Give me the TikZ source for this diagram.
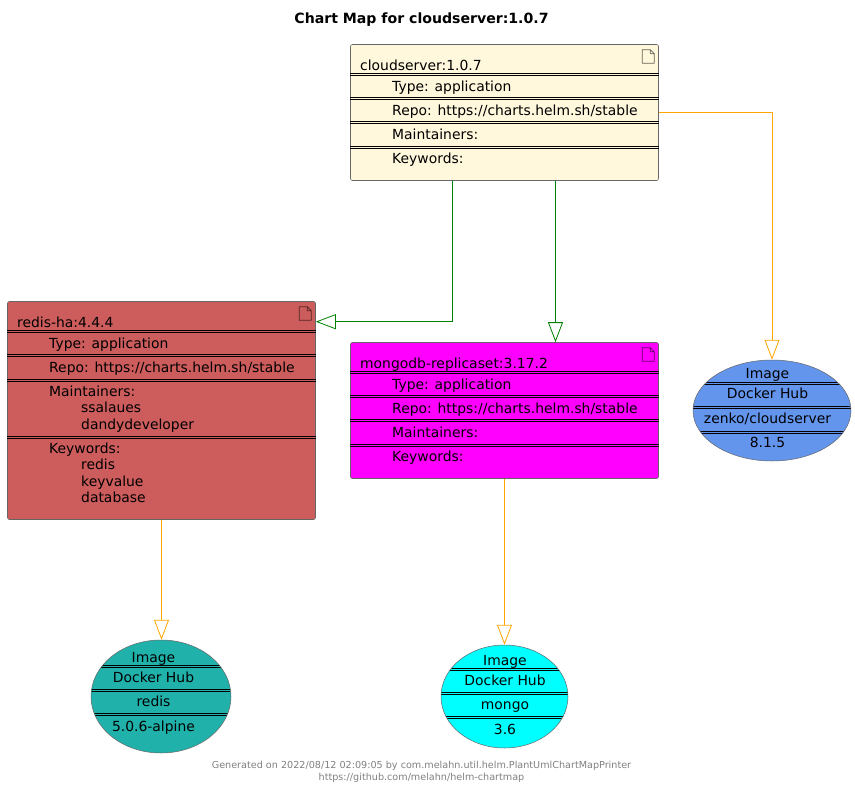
\documentclass[tikz,border=0pt]{standalone}
\usepackage{fontspec}
\setmainfont{DejaVu Sans}
\usetikzlibrary{arrows.meta,shapes.geometric}
\definecolor{cornsilk}{HTML}{FFF8DC}
\definecolor{indianred}{HTML}{CD5C5C}
\definecolor{fuchsia}{HTML}{FF00FF}
\definecolor{aqua}{HTML}{00FFFF}
\definecolor{cornflower}{HTML}{6495ED}
\definecolor{seagreen}{HTML}{20B2AA}
\definecolor{edgegreen}{HTML}{008000}
\definecolor{edgeorange}{HTML}{FFA500}
\definecolor{iconline}{HTML}{666666}
\tikzset{
  artifact/.style={draw=iconline, line width=0.6pt, rounded corners=2pt, inner sep=0pt, minimum width=308pt},
  image/.style={draw=iconline, line width=0.5pt, ellipse, inner sep=0pt},
  rowtext/.style={anchor=base west, inner sep=0pt, font=\fontsize{13.9}{16}\selectfont},
  imgtext/.style={anchor=base, inner sep=0pt, font=\fontsize{13.9}{16}\selectfont},
  sepline/.style={draw=black, line width=0.9pt},
  dep/.style={-{Triangle[open,length=20pt,width=15pt]}, line width=0.8pt},
  dochead/.style={draw=black, draw opacity=0.6, line width=0.7pt, line join=round},
  notes/.style={anchor=base, inner sep=0pt, text=gray, font=\fontsize{9.63}{12}\selectfont},
}
% page icon, top right corner of an artifact
\newcommand{\docicon}[1]{
  \draw[dochead] ([shift={(-16.5pt,-5.5pt)}]#1.north east) -- ++(8,0) -- ++(4,4) -- ++(0,9.5) -- ++(-12,0) -- cycle
    ([shift={(-8.5pt,-5.5pt)}]#1.north east) -- ++(0,4) -- ++(4,0);
}
% double rule across an artifact
\newcommand{\rowsep}[2]{
  \draw[sepline] ([yshift=-#2pt]#1.north west) -- ([yshift=-#2pt]#1.north east);
  \draw[sepline] ([yshift=-#2pt-2pt]#1.north west) -- ([yshift=-#2pt-2pt]#1.north east);
}
\begin{document}
\begin{tikzpicture}[x=1pt,y=-1pt]
\useasboundingbox (0,0) rectangle (855,788);

\node (title) [anchor=base, inner sep=0pt, font=\bfseries\fontsize{14.1}{16}\selectfont] at (421.5,23) {Chart Map for cloudserver:1.0.7};

% charts
\node (cloudserver) [artifact, fill=cornsilk, minimum height=136pt] at (504.5,112.5) {};
\node (redisha) [artifact, fill=indianred, minimum height=218pt] at (161.5,410.5) {};
\node (mongodb) [artifact, fill=fuchsia, minimum height=136pt] at (504.5,410.5) {};

\docicon{cloudserver}
\docicon{redisha}
\docicon{mongodb}

\foreach \y in {29.5,53.5,77.5,102.5} {\rowsep{cloudserver}{\y}}
\foreach \y in {29,53,78,135.5} {\rowsep{redisha}{\y}}
\foreach \y in {29.5,53.5,77.5,102.5} {\rowsep{mongodb}{\y}}

\foreach \n/\xpos/\ypos/\txt in {
  a/360/70/{cloudserver:1.0.7}, b/392/91/{Type: application}, c/392/115/{Repo: https://charts.helm.sh/stable},
  d/392/139/{Maintainers:}, e/392/163/{Keywords:},
  f/17/327/{redis-ha:4.4.4}, g/49/348/{Type: application}, h/49/372/{Repo: https://charts.helm.sh/stable},
  i/49/396/{Maintainers:}, j/81/412/{ssalaues}, k/81/429/{dandydeveloper},
  l/49/453/{Keywords:}, m/81/469/{redis}, n/81/486/{keyvalue}, o/81/502/{database},
  p/360/368/{mongodb-replicaset:3.17.2}, q/392/389/{Type: application}, r/392/413/{Repo: https://charts.helm.sh/stable},
  s/392/437/{Maintainers:}, t/392/461/{Keywords:}
} {\node (row\n) [rowtext] at (\xpos,\ypos) {\txt};}

% images
\node (imgcloud) [image, fill=cornflower, minimum width=158pt, minimum height=101pt,
  path picture={\foreach \y in {22,24,46,48,71,73}
    \draw[sepline] ([yshift=-\y pt]path picture bounding box.north west) -- ([yshift=-\y pt]path picture bounding box.north east);}] at (772,410.5) {};
\node (imgredis) [image, fill=seagreen, minimum width=140pt, minimum height=113pt,
  path picture={\foreach \y in {25,27,49.5,51.5,73.5,75.5}
    \draw[sepline] ([yshift=-\y pt]path picture bounding box.north west) -- ([yshift=-\y pt]path picture bounding box.north east);}] at (161,696.5) {};
\node (imgmongo) [image, fill=aqua, minimum width=127pt, minimum height=103pt,
  path picture={\foreach \y in {23.5,25.5,47.5,49.5,71.5,73.5}
    \draw[sepline] ([yshift=-\y pt]path picture bounding box.north west) -- ([yshift=-\y pt]path picture bounding box.north east);}] at (504.5,696.5) {};

\foreach \n/\xpos/\ypos/\txt in {
  a/767.5/378/{Image}, b/767.5/398/{Docker Hub}, c/767.5/423/{zenko/cloudserver}, d/767.5/447/{8.1.5},
  e/153.5/662/{Image}, f/153.5/682/{Docker Hub}, g/153.5/706/{redis}, h/153.5/731/{5.0.6-alpine},
  i/505/665/{Image}, j/505/685/{Docker Hub}, k/505/709/{mongo}, l/505/734/{3.6}
} {\node (lbl\n) [imgtext] at (\xpos,\ypos) {\txt};}

% dependencies
\draw[dep, edgegreen] ([xshift=-52.5pt]cloudserver.south) |- ([yshift=-20.5pt]redisha.north east);
\draw[dep, edgegreen] ([xshift=51pt]cloudserver.south) -- ([xshift=51pt]mongodb.north);
\draw[dep, edgeorange] (cloudserver.east) -| (imgcloud.north);
\draw[dep, edgeorange] (redisha.south) -- (redisha.south |- imgredis.north);
\draw[dep, edgeorange] (mongodb.south) -- (imgmongo.north);

\node (gen) [notes] at (421.5,768) {Generated on 2022/08/12 02:09:05 by com.melahn.util.helm.PlantUmlChartMapPrinter};
\node (url) [notes] at (421.5,780) {https://github.com/melahn/helm-chartmap};
\end{tikzpicture}
\end{document}
